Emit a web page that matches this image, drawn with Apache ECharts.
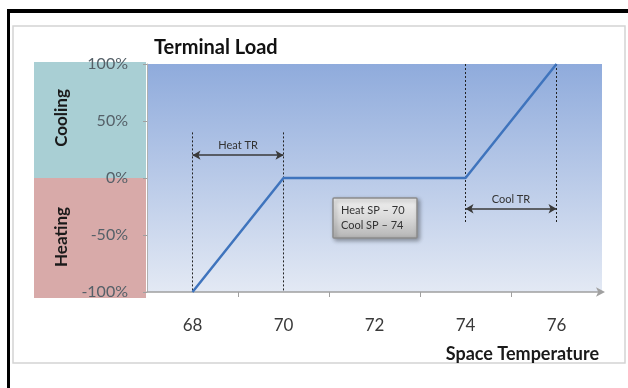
<!DOCTYPE html>
<html><head><meta charset="utf-8">
<script src="https://cdn.jsdelivr.net/npm/echarts@6/dist/echarts.min.js"></script>
<style>html,body{margin:0;padding:0;background:#fff}#c{width:628px;height:388px}</style>
</head><body><div id="c"></div>
<script>
var categories = ['67','68','69','70','71','72','73','74','75','76','77'];
var loadPoints = [['68',-100],['70',0],['74',0],['76',100]];
var yTicks = [-100,-50,0,50,100];
var heatTR = ['68','70'];
var coolTR = ['74','76'];

var F = 'Lato, "Open Sans", sans-serif';
var chart = echarts.init(document.getElementById('c'));
var dotted = {color:'#222', width:1, type:[2,2]};
var arrowLine = {color:'#3a3a3a', width:1.5, type:'solid'};
chart.setOption({
  animation:false,
  backgroundColor:'#fff',
  title:{text:'Terminal Load', left:149, top:33, textStyle:{fontFamily:F, fontSize:20, fontWeight:'bold', color:'#111'}},
  grid:{left:147, right:26, top:64, bottom:96, show:true, borderWidth:0,
    backgroundColor:{type:'linear',x:0,y:0,x2:0,y2:1,colorStops:[{offset:0,color:'#8fabdc'},{offset:1,color:'#e3e9f4'}]}},
  xAxis:{type:'category', data:categories, boundaryGap:false,
    axisLine:{onZero:false, lineStyle:{color:'#a0a0a0', width:1.5}, symbol:['none','arrow'], symbolSize:[7,9], symbolOffset:[0,3]},
    axisTick:{show:true, inside:false, length:5, lineStyle:{color:'#a0a0a0'}, interval:function(i){return i%2===0 && i>0 && i<10;}},
    axisLabel:{interval:function(i){return i%2===1;}, margin:25, fontFamily:F, fontSize:17, color:'#3a3a3a'},
    splitLine:{show:false}},
  yAxis:{type:'value', min:-100, max:100, interval:50,
    axisLine:{show:true, lineStyle:{color:'#b0b0b0'}},
    axisTick:{show:true, length:4, lineStyle:{color:'#a0a0a0'}},
    axisLabel:{formatter:'{value}%', margin:19, fontFamily:F, fontSize:16, color:'#556068'},
    splitLine:{show:false}},
  series:[{type:'line', data:loadPoints, showSymbol:false, symbol:'none',
    lineStyle:{color:'#3f74bd', width:2.5}, z:5,
    markLine:{silent:true, symbol:['none','none'], label:{show:false}, lineStyle:dotted, z:3,
      data:[
        [{coord:[heatTR[0],40]},{coord:[heatTR[0],-100]}],
        [{coord:[heatTR[1],40]},{coord:[heatTR[1],-100]}],
        [{coord:[coolTR[0],100]},{coord:[coolTR[0],-40]}],
        [{coord:[coolTR[1],100]},{coord:[coolTR[1],-40]}],
        [{coord:[heatTR[0],20], symbol:'arrow', symbolSize:[7,8], lineStyle:arrowLine, label:{show:true, formatter:'Heat TR', position:'insideMiddleTop', distance:4, fontFamily:F, fontSize:11, color:'#333'}},{coord:[heatTR[1],20], symbol:'arrow', symbolSize:[7,8]}],
        [{coord:[coolTR[0],-27], symbol:'arrow', symbolSize:[7,8], lineStyle:arrowLine, label:{show:true, formatter:'Cool TR', position:'insideMiddleTop', distance:4, fontFamily:F, fontSize:11, color:'#333'}},{coord:[coolTR[1],-27], symbol:'arrow', symbolSize:[7,8]}]
      ]}
  }],
  graphic:{elements:[
    {type:'rect', z:-20, shape:{x:13,y:26,width:612,height:337}, style:{fill:'#fff', stroke:'#d4d4d4', lineWidth:1.5}},
    {type:'rect', z:-10, shape:{x:34,y:62,width:112,height:116}, style:{fill:'#a9cfd4'}},
    {type:'rect', z:-10, shape:{x:34,y:178,width:112,height:120}, style:{fill:'#d8aaa9'}},
    {type:'text', z:-5, x:62, y:118, rotation:Math.PI/2, style:{text:'Cooling', fontFamily:F, fontSize:17, fontWeight:'bold', fill:'#1a1a1a', align:'center', verticalAlign:'middle'}},
    {type:'text', z:-5, x:62, y:237, rotation:Math.PI/2, style:{text:'Heating', fontFamily:F, fontSize:17, fontWeight:'bold', fill:'#1a1a1a', align:'center', verticalAlign:'middle'}},
    {type:'rect', shape:{x:7,y:9,width:3,height:379}, style:{fill:'#000'}},
    {type:'rect', shape:{x:7,y:9,width:621,height:4}, style:{fill:'#000'}},
    {type:'text', x:599, y:354, style:{text:'Space Temperature', fontFamily:F, fontSize:18, fontWeight:'bold', fill:'#1a1a1a', align:'right', verticalAlign:'middle'}},
    {type:'group', x:333, y:198, z:20, children:[
      {type:'rect', shape:{x:0,y:0,width:84,height:40, r:1},
        style:{fill:{type:'linear',x:0,y:0,x2:0,y2:1,colorStops:[{offset:0,color:'#f2f2f2'},{offset:0.5,color:'#d9d9d9'},{offset:1,color:'#b4b4b4'}]},
          stroke:'#8c8c8c', lineWidth:1.5, shadowBlur:4, shadowOffsetX:2, shadowOffsetY:2, shadowColor:'rgba(0,0,0,0.35)'}},
      {type:'text', x:8, y:12, style:{text:'Heat SP – 70', fontFamily:F, fontSize:11, fill:'#333', verticalAlign:'middle'}},
      {type:'text', x:8, y:27, style:{text:'Cool SP – 74', fontFamily:F, fontSize:11, fill:'#333', verticalAlign:'middle'}}
    ]}
  ]}
});
</script></body></html>
